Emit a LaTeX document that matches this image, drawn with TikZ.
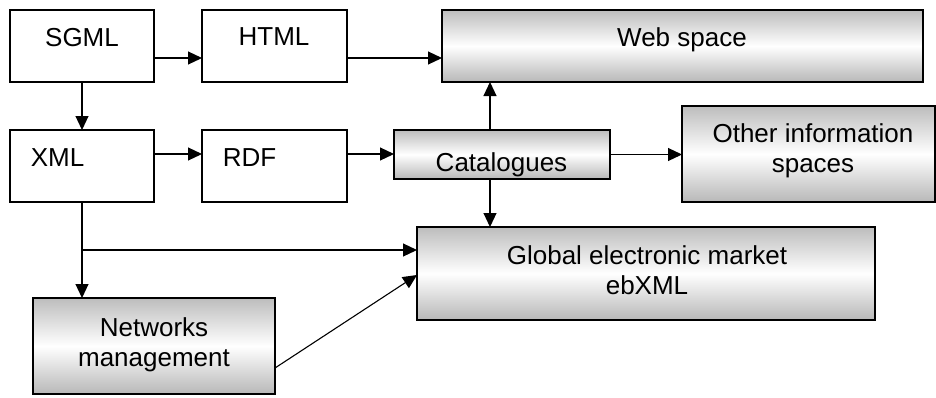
\documentclass[tikz,border=0pt]{standalone}
\usepackage{fontspec}
\setmainfont{Liberation Sans}
\usetikzlibrary{arrows.meta}

\tikzset{
  plain/.style={draw=black, line width=1.2pt, fill=white, inner sep=0pt, outer sep=0pt},
  shaded/.style={draw=black, line width=1.2pt, inner sep=0pt, outer sep=0pt,
    top color=black!26, bottom color=black!28, middle color=white},
  label/.style={font=\fontsize{26}{30}\selectfont, inner sep=0pt, align=center},
  arr/.style={line width=1.1pt, -{Triangle[length=14pt,width=13pt]}},
}

\begin{document}
\begin{tikzpicture}[x=1pt, y=-1pt]
  \useasboundingbox (0,0) rectangle (936,397);

  % boxes
  \node[plain,  minimum width=144pt, minimum height=72pt] (sgml)  at (82,46)     {};
  \node[plain,  minimum width=145pt, minimum height=72pt] (html)  at (274.5,46)  {};
  \node[shaded, minimum width=481pt, minimum height=72pt] (web)   at (682.5,46)  {};
  \node[plain,  minimum width=144pt, minimum height=72pt] (xml)   at (82,166)    {};
  \node[plain,  minimum width=145pt, minimum height=72pt] (rdf)   at (274.5,166) {};
  \node[shaded, minimum width=216pt, minimum height=49pt] (cat)   at (502,154.5) {};
  \node[shaded, minimum width=253pt, minimum height=96pt] (other) at (808.5,154) {};
  \node[shaded, minimum width=458pt, minimum height=93pt] (glob)  at (646,273.5) {};
  \node[shaded, minimum width=242pt, minimum height=96pt] (net)   at (154,346)   {};

  % labels
  \node[label, anchor=base] (sgmlT) at (82,46.5)    {SGML};
  \node[label, anchor=base] (htmlT) at (274,45.5)   {HTML};
  \node[label, anchor=base] (webT)  at (682,46.5)   {Web space};
  \node[label, anchor=base] (xmlT)  at (57.5,166.5) {XML};
  \node[label, anchor=base] (rdfT)  at (249.5,166.5){RDF};
  \node[label, anchor=base] (catT)  at (501.5,171)  {Catalogues};
  \node[label] (otherT) at (813,150.5) {Other information\\spaces};
  \node[label] (globT)  at (647,270.5) {Global electronic market\\ebXML};
  \node[label] (netT)   at (154,344.5) {Networks\\management};

  % connectors
  \draw[arr] ([yshift=-12pt]sgml.east) -- ([yshift=-12pt]html.west);
  \draw[arr] ([yshift=-12pt]html.east) -- ([yshift=-12pt]web.west);
  \draw[arr] (sgml.south) -- (xml.north);
  \draw[arr] ([yshift=12pt]xml.east) -- ([yshift=12pt]rdf.west);
  \draw[arr] ([yshift=12pt]rdf.east) -- ([yshift=12pt]rdf.east -| cat.west);
  \draw[arr] ([xshift=-12pt]cat.north) -- ([xshift=-12pt]cat.north |- web.south);
  \draw[arr] (cat.east) -- (cat.east -| other.west);
  \draw[arr] ([xshift=-12pt]cat.south) -- ([xshift=-12pt]cat.south |- glob.north);
  \draw[arr] (xml.south) -- (xml.south |- net.north);
  \coordinate (branch) at (82,250);
  \draw[arr] (branch) -- (branch -| glob.west);
  \draw[arr] ([yshift=-22pt]net.east) -- ([yshift=-1.5pt]glob.west);
\end{tikzpicture}
\end{document}
